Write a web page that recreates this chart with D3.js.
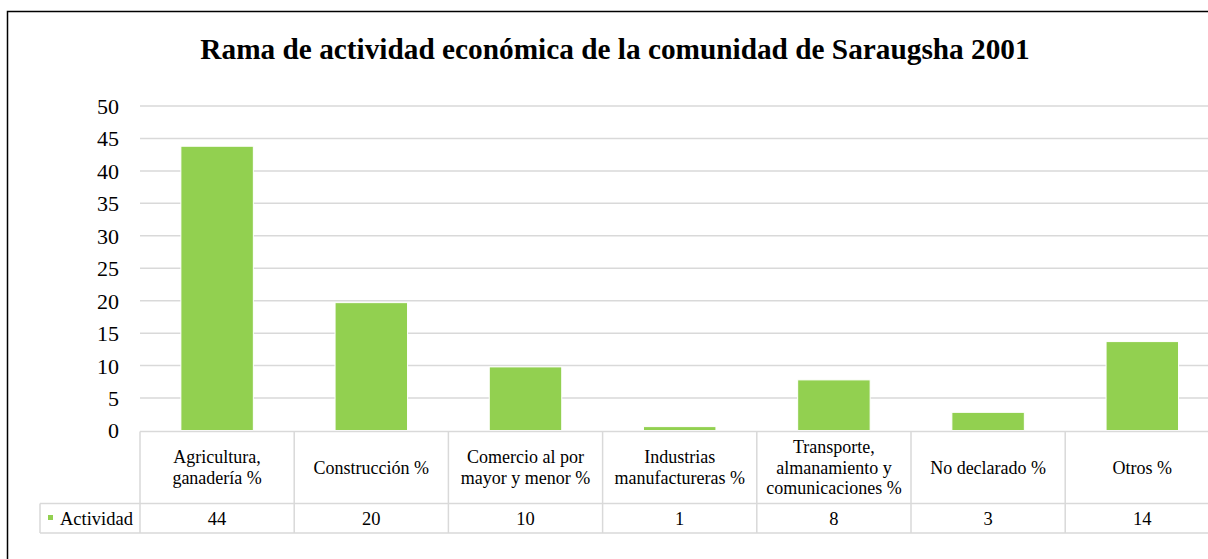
<!DOCTYPE html>
<html>
<head>
<meta charset="utf-8">
<script src="https://cdn.jsdelivr.net/npm/d3@7"></script>
<style>
  body { margin: 0; background: #fff; }
</style>
</head>
<body>
<script>
// chart data
var categories = [
    ["Agricultura,", "ganadería %"],
    ["Construcción %"],
    ["Comercio al por", "mayor y menor %"],
    ["Industrias", "manufactureras %"],
    ["Transporte,", "almanamiento y", "comunicaciones %"],
    ["No declarado %"],
    ["Otros %"]
];
var values = [43.8, 19.7, 9.8, 0.6, 7.8, 2.8, 13.7];
var yTicks = [0, 5, 10, 15, 20, 25, 30, 35, 40, 45, 50];
var seriesName = "Actividad";
var title = "Rama de actividad económica de la comunidad de Saraugsha 2001";

var w = 1208, h = 559;
var green = "#92d050", grid = "#d9d9d9";
var serif = "'Liberation Serif', 'Times New Roman', 'DejaVu Serif', serif";

var svg = d3.select("body").append("svg")
    .attr("width", w)
    .attr("height", h)
    .style("font-family", serif);

// outer chart border (runs off the right and bottom of the picture)
svg.append("rect")
    .attr("x", 7.5).attr("y", 11.5)
    .attr("width", 1260).attr("height", 600)
    .attr("fill", "#fff")
    .attr("stroke", "#000")
    .attr("stroke-width", 1.5);

svg.append("text")
    .attr("x", 615).attr("y", 58.5)
    .attr("text-anchor", "middle")
    .style("font-family", serif)
    .attr("font-size", 29.3)
    .attr("font-weight", "bold")
    .text(title);

var plotLeft = 140, step = 154.2;
var plotRight = plotLeft + step * categories.length;

var x = d3.scaleBand()
    .domain(d3.range(categories.length))
    .range([plotLeft, plotRight])
    .paddingInner(0.53)
    .paddingOuter(0.265);

var y = d3.scaleLinear()
    .domain([0, 50])
    .range([430.5, 106]);

// gridlines
svg.append("g")
    .selectAll("line")
    .data(yTicks.slice(1))
    .enter().append("line")
    .attr("x1", plotLeft).attr("x2", plotRight)
    .attr("y1", function(d) { return y(d); })
    .attr("y2", function(d) { return y(d); })
    .attr("stroke", grid)
    .attr("stroke-width", 1.5);

// y axis labels
var yAxis = d3.axisLeft(y).tickValues(yTicks).tickSize(0).tickPadding(0);
var ya = svg.append("g")
    .attr("transform", "translate(119,0)")
    .call(yAxis);
ya.select(".domain").remove();
ya.attr("font-family", null);
ya.selectAll("text")
    .style("font-family", serif)
    .attr("font-size", 22)
    .attr("fill", "#000")
    .attr("dy", "0.34em");

// bars
svg.append("g")
    .selectAll("rect")
    .data(values)
    .enter().append("rect")
    .attr("x", function(d, i) { return x(i); })
    .attr("width", x.bandwidth())
    .attr("y", function(d) { return y(d); })
    .attr("height", function(d) { return y(0) - y(d); })
    .attr("fill", green)
    .attr("stroke", "#fff")
    .attr("stroke-width", 1);

// data table
var tTop = 431.5, tMid = 503.5, tBot = 533;
var table = svg.append("g")
    .attr("stroke", grid)
    .attr("stroke-width", 1.5);

table.append("line")
    .attr("x1", plotLeft).attr("x2", plotRight)
    .attr("y1", tTop).attr("y2", tTop);
table.append("line")
    .attr("x1", 40).attr("x2", plotRight)
    .attr("y1", tMid).attr("y2", tMid);
table.append("line")
    .attr("x1", 40).attr("x2", plotRight)
    .attr("y1", tBot).attr("y2", tBot);
table.append("line")
    .attr("x1", 40).attr("x2", 40)
    .attr("y1", tMid).attr("y2", tBot);
table.selectAll(".vline")
    .data(d3.range(categories.length + 1))
    .enter().append("line")
    .attr("class", "vline")
    .attr("x1", function(i) { return plotLeft + i * step; })
    .attr("x2", function(i) { return plotLeft + i * step; })
    .attr("y1", tTop).attr("y2", tBot);

// category labels
var lineH = 20.5;
var catG = svg.append("g")
    .selectAll("text")
    .data(categories)
    .enter().append("text")
    .attr("text-anchor", "middle")
    .style("font-family", serif)
    .attr("font-size", 18)
    .attr("fill", "#000")
    .attr("transform", function(d, i) {
        var cx = x(i) + x.bandwidth() / 2;
        var cy = (tTop + tMid) / 2 - (d.length - 1) * lineH / 2 + 6;
        return "translate(" + cx + "," + cy + ")";
    });
catG.selectAll("tspan")
    .data(function(d) { return d; })
    .enter().append("tspan")
    .attr("x", 0)
    .attr("y", function(d, j) { return j * lineH; })
    .text(function(d) { return d; });

// value row
svg.append("g")
    .selectAll("text")
    .data(values)
    .enter().append("text")
    .attr("x", function(d, i) { return x(i) + x.bandwidth() / 2; })
    .attr("y", (tMid + tBot) / 2 + 6.5)
    .attr("text-anchor", "middle")
    .style("font-family", serif)
    .attr("font-size", 18.5)
    .attr("fill", "#000")
    .text(function(d) { return d3.format(".0f")(d); });

// legend key in the table
svg.append("rect")
    .attr("x", 48).attr("y", 515)
    .attr("width", 5).attr("height", 5)
    .attr("fill", green);
svg.append("text")
    .attr("x", 60).attr("y", (tMid + tBot) / 2 + 6.5)
    .style("font-family", serif)
    .attr("font-size", 18.5)
    .attr("fill", "#000")
    .text(seriesName);
</script>
</body>
</html>
